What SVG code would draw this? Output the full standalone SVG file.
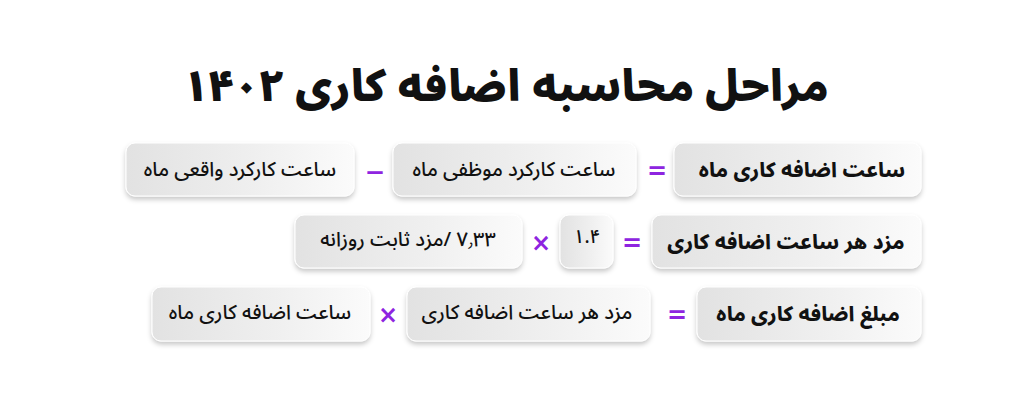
<svg xmlns="http://www.w3.org/2000/svg" width="1024" height="402" viewBox="0 0 1024 402">
<defs>
<linearGradient id="g" x1="0" y1="0" x2="1" y2="0">
<stop offset="0" stop-color="#e2e2e2"/>
<stop offset="0.6" stop-color="#f0f0f0"/>
<stop offset="1" stop-color="#fbfbfb"/>
</linearGradient>
<filter id="sh" x="-10%" y="-20%" width="120%" height="150%">
<feDropShadow dx="0" dy="3" stdDeviation="2.5" flood-color="#000" flood-opacity="0.22"/>
</filter>
</defs>
<style>
.box{fill:url(#g);stroke:#ffffff;stroke-width:1;filter:url(#sh)}
.t{font-family:"Noto Sans Arabic","DejaVu Sans",sans-serif;fill:#111;text-anchor:middle;direction:rtl}
.b{font-weight:800;font-size:20.5px}
.r{font-size:20px;font-weight:500}
.op{font-family:"DejaVu Sans",sans-serif;font-weight:bold;fill:#8e24e0;text-anchor:middle}
.title{font-family:"Noto Sans Arabic","DejaVu Sans",sans-serif;font-weight:900;font-size:43px;fill:#111;text-anchor:middle;direction:rtl}
</style>
<rect width="1024" height="402" fill="#ffffff"/>
<g id="title"><text class="title" x="506" y="101">مراحل محاسبه اضافه کاری ۱۴۰۲</text></g>

<g id="n1"><rect class="box" x="674" y="143" width="247" height="53" rx="9"/><text class="t b" x="802" y="177">ساعت اضافه کاری ماه</text></g>
<g id="n2"><rect class="box" x="393" y="143" width="243" height="53" rx="9"/><text class="t r" x="514" y="176">ساعت کارکرد موظفی ماه</text></g>
<g id="n3"><rect class="box" x="126" y="143" width="228" height="53" rx="9"/><text class="t r" x="240" y="176">ساعت کارکرد واقعی ماه</text></g>

<g id="n4"><rect class="box" x="652" y="215" width="269" height="53" rx="9"/><text class="t b" x="786" y="249">مزد هر ساعت اضافه کاری</text></g>
<g id="n5"><rect class="box" x="560" y="215" width="53" height="53" rx="9"/><text class="t r" x="587" y="243" style="font-size:19px">۱.۴</text></g>
<g id="n6"><rect class="box" x="295" y="215" width="227" height="53" rx="9"/><text class="t r" x="408" y="246">۷٫۳۳ /مزد ثابت روزانه</text></g>

<g id="n7"><rect class="box" x="697" y="287" width="224" height="54" rx="9"/><text class="t b" x="808" y="321">مبلغ اضافه کاری ماه</text></g>
<g id="n8"><rect class="box" x="407" y="287" width="243" height="54" rx="9"/><text class="t r" x="527" y="319">مزد هر ساعت اضافه کاری</text></g>
<g id="n9"><rect class="box" x="152" y="287" width="218" height="54" rx="9"/><text class="t r" x="260" y="319">ساعت اضافه کاری ماه</text></g>

<g id="connectors">
<text class="op" x="657" y="179" font-size="24">=</text>
<text class="op" x="375" y="183" style="font-size:38px;font-weight:normal">–</text>
<text class="op" x="632" y="251" font-size="24">=</text>
<text class="op" x="541" y="251" font-size="24">×</text>
<text class="op" x="677" y="323" font-size="24">=</text>
<text class="op" x="388" y="323" font-size="24">×</text>
</g>
</svg>
